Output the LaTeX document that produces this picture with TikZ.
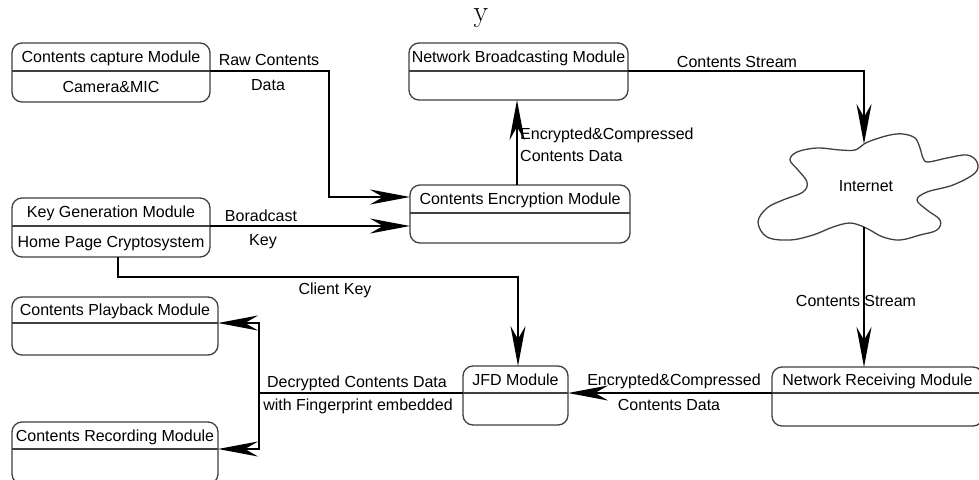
\documentclass[tikz,border=0pt]{standalone}
\usepackage{fontspec}
\newfontfamily\lab{Liberation Sans}
\usetikzlibrary{arrows.meta}
\definecolor{boxgray}{HTML}{404040}
\tikzset{
  modbox/.style={draw=boxgray, line width=1.3pt, rounded corners=10pt, fill=white, inner sep=0pt, outer sep=0pt},
  divline/.style={draw=boxgray, line width=1.3pt},
  lbl/.style={font=\lab\fontsize{16}{19}\selectfont, inner sep=0pt, text height=11.5pt, text depth=0pt},
  bigtip/.tip={Stealth[length=40pt,width=15pt,inset=13pt]},
  conn/.style={line width=2.5pt, draw=black, -bigtip},
  plainconn/.style={line width=2.5pt, draw=black},
  cloudline/.style={draw=boxgray, line width=1.3pt, fill=white},
}
\newcommand{\modbox}[8]{%
  \node[modbox, minimum width={#4-#2}, minimum height={#5-#3}] (#1) at ({(#2+#4)/2},{(#3+#5)/2}) {};
  \coordinate (#1-dl) at (#2,#6);
  \coordinate (#1-dr) at (#4,#6);
  \draw[divline] (#1-dl) -- (#1-dr);
  \node[lbl] (#1-t) at ({(#2+#4)/2},{(#3+#6)/2}) {#7};
  \node[lbl] (#1-b) at ({(#2+#4)/2},{(#6+#5)/2}) {#8};
}
\begin{document}
\begin{tikzpicture}[x=1pt,y=-1pt]
\useasboundingbox (0,0) rectangle (979,479);
\clip (0,0) rectangle (979,479);
\fill[white] (0,0) rectangle (979,479);

% title glyph
\node[font=\fontsize{30}{32}\selectfont, inner sep=0pt, anchor=base] (ytitle) at (481,21) {y};

% modules
\modbox{cap}{12}{43}{210}{102}{71}{Contents capture Module}{Camera\&MIC}
\modbox{nb}{409}{43}{628}{100}{71}{Network Broadcasting Module}{}
\modbox{enc}{410}{185}{630}{243}{213}{Contents Encryption Module}{}
\modbox{key}{12}{198}{210}{257}{226}{Key Generation Module}{Home Page Cryptosystem}
\modbox{play}{12}{297}{218}{355}{323}{Contents Playback Module}{}
\modbox{rec}{12}{422}{218}{484}{449}{Contents Recording Module}{}
\modbox{jfd}{463}{366}{568}{425}{393}{JFD Module}{}
\modbox{nr}{772}{367}{983}{426}{393}{Network Receiving Module}{}

% cloud
\draw[cloudline] plot[smooth cycle, tension=0.6] coordinates {
  (864,144) (873,140) (890,135) (903,134) (915,138) (920,148) (923,158)
  (928,162) (947,158) (967,155) (977,162) (975,173) (953,185) (927,192)
  (917,200) (927,210) (940,220) (937,230) (920,235) (900,240) (883,237)
  (870,230) (864,227) (850,223) (833,227) (813,235) (790,240) (767,237)
  (758,222) (767,208) (783,200) (803,192) (807,182) (798,170) (790,160)
  (797,152) (817,148) (840,150) (855,150)};
\node[lbl] (inet) at (866,186) {Internet};
\coordinate (cloudtop) at (864,144);
\coordinate (cloudbot) at (864,227);

% connection points
\coordinate (enc-in1) at (410,197);
\coordinate (enc-in2) at (410,226);
\coordinate (enc-out) at (517,185);
\coordinate (nb-in) at (517,100);
\coordinate (key-out) at (118,257);
\coordinate (jfd-in) at (518,366);
\coordinate (nr-in) at (864,367);

% labels
\node[lbl] (l-raw) at (269,60) {Raw Contents};
\node[lbl] (l-data) at (268,85) {Data};
\node[lbl] (l-bc) at (261,216) {Boradcast};
\node[lbl] (l-key) at (263,240) {Key};
\node[lbl, anchor=west] (l-ec1) at (520,134) {Encrypted\&Compressed};
\node[lbl, anchor=west] (l-ec2) at (520,156) {Contents Data};
\node[lbl] (l-cs1) at (737,62) {Contents Stream};
\node[lbl] (l-cs2) at (856,301) {Contents Stream};
\node[lbl] (l-ck) at (335,289) {Client Key};
\node[lbl] (l-ec3) at (674,380) {Encrypted\&Compressed};
\node[lbl] (l-ec4) at (669,405) {Contents Data};
\node[lbl] (l-dec1) at (357,382) {Decrypted Contents Data};
\node[lbl] (l-dec2) at (358,405) {with Fingerprint embedded};

% connectors
\draw[conn] (cap-dr) -- ++(119,0) |- (enc-in1);
\draw[conn] (key-dr) -- (enc-in2);
\draw[conn] (enc-out) -- (nb-in);
\draw[conn] (nb-dr) -| (cloudtop);
\draw[conn] (cloudbot) -- (nr-in);
\draw[conn] (key-out) -- ++(0,20) -| (jfd-in);
\draw[conn] (nr-dl) -- (jfd-dr);
\draw[plainconn] (jfd-dl) -- ++(-204,0) coordinate (split);
\draw[conn] (split) |- (play-dr);
\draw[conn] (split) |- (rec-dr);
\end{tikzpicture}
\end{document}
